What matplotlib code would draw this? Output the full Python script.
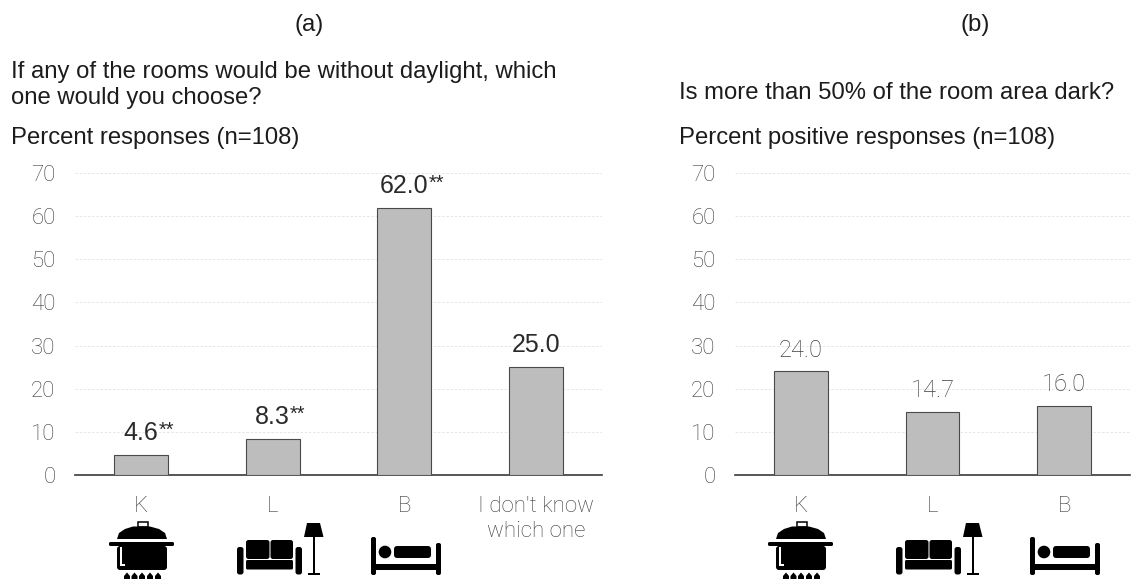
import matplotlib
matplotlib.use("Agg")
import matplotlib.pyplot as plt
from matplotlib.patches import Rectangle, FancyBboxPatch, Circle, Polygon

plt.rcParams['font.family'] = ['Liberation Sans', 'DejaVu Sans']

cats_a = ["K", "L", "B", "I don't know\nwhich one"]
vals_a = [4.6, 8.3, 62.0, 25.0]
labels_a = ["4.6", "8.3", "62.0", "25.0"]
stars_a = ["**", "**", "**", ""]
cats_b = ["K", "L", "B"]
vals_b = [24.0, 14.7, 16.0]
labels_b = ["24.0", "14.7", "16.0"]
stars_b = ["", "", ""]
yticks = [0, 10, 20, 30, 40, 50, 60, 70]

W, H = 1134, 579
fig = plt.figure(figsize=(W / 100, H / 100), dpi=100)
THIN = dict(family='Roboto', weight='light')


def make_axes(x0, x1, cats, vals, labels, stars, label_color, label_size, offset, label_font):
    y0, y70 = 475, 173
    ax = fig.add_axes([x0 / W, 1 - y0 / H, (x1 - x0) / W, (y0 - y70) / H])
    ax.bar(range(len(cats)), vals, width=0.41, color='#bdbdbd', edgecolor='#4a4a4a',
           linewidth=0.8, zorder=3)
    ax.set_xlim(-0.5, len(cats) - 0.5)
    ax.set_ylim(0, 70)
    ax.set_yticks(yticks)
    ax.set_xticks(range(len(cats)))
    ax.set_xticklabels(cats, linespacing=1.25, **THIN)
    for t in ax.get_yticklabels():
        t.set(**THIN)
    ax.tick_params(axis='both', length=0, labelsize=16, labelcolor='#3c3c3c')
    ax.tick_params(axis='x', pad=15)
    ax.tick_params(axis='y', pad=14)
    ax.grid(axis='y', color='#e2e2e2', linestyle=(0, (3, 2)), linewidth=0.6, zorder=0)
    for side in ['top', 'right', 'left']:
        ax.spines[side].set_visible(False)
    ax.spines['bottom'].set_color('#3a3a3a')
    ax.spines['bottom'].set_linewidth(1.2)
    for i, (v, t, s) in enumerate(zip(vals, labels, stars)):
        a = ax.annotate(t, (i, v), xytext=(0, offset), textcoords='offset points',
                        ha='center', va='bottom', fontsize=label_size, color=label_color,
                        **label_font)
        if s:
            ax.annotate(s, xy=(1, 0.62), xycoords=a, ha='left', va='center',
                        fontsize=label_size * 0.8, color=label_color)
    return ax


make_axes(75, 602, cats_a, vals_a, labels_a, stars_a, '#2a2a2a', 18, 7, {})
make_axes(735, 1130, cats_b, vals_b, labels_b, stars_b, '#404040', 17, 7, THIN)


def ftext(x, y, s, **kw):
    fig.text(x / W, 1 - y / H, s, color=kw.pop('color', '#1c1c1c'), va='center', **kw)


ftext(309, 25, "(a)", ha='center', fontsize=17.2)
ftext(975, 25, "(b)", ha='center', fontsize=17.2)
ftext(11, 72, "If any of the rooms would be without daylight, which", fontsize=17.2)
ftext(11, 98, "one would you choose?", fontsize=17.2)
ftext(11, 138, "Percent responses (n=108)", fontsize=17.2)
ftext(679, 93, "Is more than 50% of the room area dark?", fontsize=17.2)
ftext(679, 138, "Percent positive responses (n=108)", fontsize=17.2)

# Pictograms drawn on an overlay in pixel coordinates
ov = fig.add_axes([0, 0, 1, 1], zorder=5)
ov.set_xlim(0, W)
ov.set_ylim(H, 0)
ov.axis('off')
ov.patch.set_alpha(0)


def rect(x0, y0, x1, y1, c='black', r=0):
    if r:
        ov.add_patch(FancyBboxPatch((x0 + r, y0 + r), x1 - x0 - 2 * r, y1 - y0 - 2 * r,
                                    boxstyle=f"round,pad={r},rounding_size={r}", fc=c, ec='none'))
    else:
        ov.add_patch(Rectangle((x0, y0), x1 - x0, y1 - y0, fc=c, ec='none'))


def pot(d):
    ov.add_patch(Rectangle((137.5 + d, 522), 10, 5, fc='white', ec='black', lw=1.1))
    ov.add_patch(Polygon([(117 + d, 539), (119 + d, 533), (125 + d, 529), (133 + d, 526.5),
                          (150 + d, 526.5), (159 + d, 529), (165 + d, 533), (167 + d, 539)],
                         fc='black', ec='none'))
    rect(109 + d, 542, 174 + d, 546, r=1.5)
    rect(117 + d, 546, 167 + d, 570, r=3)
    rect(120 + d, 547, 122 + d, 565, 'white')
    rect(120 + d, 564, 125 + d, 566, 'white')
    for fx in (127, 134.5, 142, 150, 158):
        ov.add_patch(Polygon([(fx + d - 3, 579), (fx + d - 3, 576), (fx + d, 572.5),
                              (fx + d + 3, 576), (fx + d + 3, 579)], fc='black', ec='none'))


def sofa(d):
    rect(237 + d, 547, 243.5 + d, 574.5, r=2.5)
    rect(295.5 + d, 547, 302 + d, 574.5, r=2.5)
    rect(246 + d, 540, 269.5 + d, 559, r=2.5)
    rect(270.5 + d, 540, 293 + d, 559, r=2.5)
    rect(246 + d, 560, 293 + d, 569.5, r=1.5)
    ov.add_patch(Polygon([(307 + d, 523), (320 + d, 523), (323.5 + d, 537), (304 + d, 537)],
                         fc='black', ec='none'))
    rect(313.3 + d, 537, 314.8 + d, 574)
    rect(307.5 + d, 573, 320 + d, 574.5)


def bed(d):
    rect(371 + d, 537, 376 + d, 575, r=2)
    rect(436 + d, 543, 441 + d, 575, r=2)
    rect(375 + d, 564, 437 + d, 569.5)
    ov.add_patch(Circle((385 + d, 552), 6.3, fc='black', ec='none'))
    rect(394 + d, 546, 431 + d, 558, r=3)


for d in (0, 659):
    pot(d)
    sofa(d)
    bed(d)

fig.savefig("out.png", dpi=100, facecolor='white')
